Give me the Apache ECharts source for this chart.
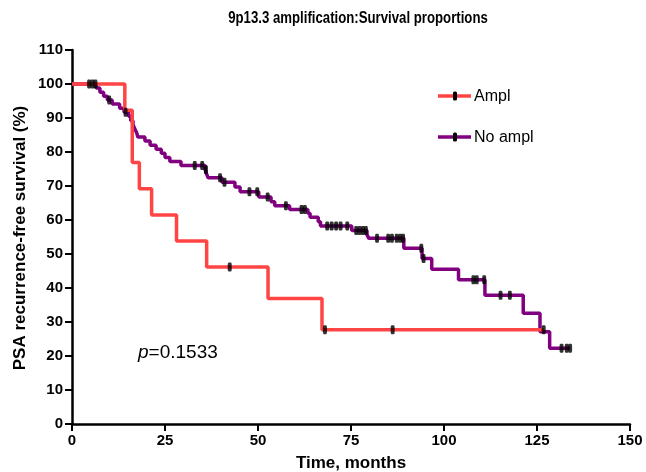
<!DOCTYPE html>
<html>
<head>
<meta charset="utf-8">
<script src="https://cdn.jsdelivr.net/npm/echarts@6/dist/echarts.min.js"></script>
<style>
  html, body { margin: 0; padding: 0; background: #fff; }
  #chart { width: 646px; height: 472px; }
</style>
</head>
<body>
<div id="chart"></div>
<script>
// Kaplan-Meier estimates: event times (months) and survival (%) after each drop
const amplTimes = [0, 14.2, 16.2, 18.1, 21.4, 28.1, 36.2, 52.7, 67.2, 126.8];
const amplSurv  = [100, 92.3, 76.9, 69.2, 61.5, 53.8, 46.2, 36.9, 27.7, 27.7];
const amplCensored = [42.4, 68.0, 86.2, 126.8];

const noAmplTimes = [0, 6.5, 7.5, 8.5, 9.5, 10.8, 12.8, 14.0, 15.2, 15.8, 16.4, 16.9, 17.4, 17.7,
  19.6, 21.0, 22.6, 24.0, 25.0, 26.3, 29.3, 35.8, 36.2, 36.6, 40.3, 43.8, 45.2, 50.2, 53.5, 54.5,
  58.5, 63.4, 64.0, 66.2, 66.8, 75.2, 79.3, 79.8, 89.2, 94.1, 96.7, 103.9, 111.0, 121.3, 125.8,
  128.4, 133.9];
const noAmplSurv = [100, 98.8, 97.6, 96.4, 95.3, 94.1, 92.9, 91.7, 90.5, 89.2, 88.0, 86.8, 85.6, 84.4,
  83.2, 82.0, 80.8, 79.6, 78.4, 77.2, 76.0, 74.8, 73.5, 72.4, 71.1, 69.7, 68.3, 66.8, 65.4, 64.2,
  63.1, 62.0, 60.8, 59.5, 58.2, 56.9, 55.7, 54.6, 51.7, 48.7, 45.5, 42.4, 37.9, 32.6, 27.1,
  22.3, 22.3];
const noAmplCensored = [4.6, 5.5, 6.3, 10.0, 14.4, 33.0, 35.0, 36.0, 39.8, 41.0, 47.7, 49.8, 52.6,
  57.5, 61.7, 62.6, 68.6, 69.8, 71.0, 72.2, 74.0, 76.4, 77.3, 78.2, 79.0, 82.0, 85.0, 86.0, 87.3,
  88.2, 89.0, 93.9, 94.5, 107.9, 108.8, 110.8, 115.2, 117.7, 131.6, 133.0, 133.9];

const xTicks = [0, 25, 50, 75, 100, 125, 150];
const yTicks = [0, 10, 20, 30, 40, 50, 60, 70, 80, 90, 100, 110];

const seriesNames = ['Ampl', 'No ampl'];
const pValue = '0.1533';

const RED = '#ff4444';
const PURPLE = '#800080';
const FONT = 'Liberation Sans, Arial, sans-serif';

// survival value of a step curve at time t
function survAt(times, surv, t) {
  let v = surv[0];
  for (let i = 0; i < times.length; i++) { if (times[i] <= t) v = surv[i]; }
  return v;
}
const pairs = (xs, ys) => xs.map((x, i) => [x, ys[i]]);
const censorPts = (ct, times, surv) => ct.map(t => [t, survAt(times, surv, t)]);

const chart = echarts.init(document.getElementById('chart'), null, { renderer: 'canvas' });

const axisCommon = {
  type: 'value',
  axisLine: { show: true, onZero: false, lineStyle: { color: '#000', width: 2.5 } },
  axisTick: { show: true, inside: false, length: 7, lineStyle: { color: '#000', width: 2 } },
  splitLine: { show: false },
  axisLabel: { color: '#000', fontFamily: FONT, fontWeight: 'bold', fontSize: 15 }
};

const censorStyle = {
  type: 'scatter', symbol: 'roundRect', symbolSize: [4, 9], z: 5,
  itemStyle: { color: '#000' }
};

chart.setOption({
  animation: false,
  backgroundColor: '#fff',
  grid: { left: 72, right: 16, top: 50, bottom: 48, containLabel: false },
  xAxis: Object.assign({}, axisCommon, {
    min: xTicks[0], max: xTicks[xTicks.length - 1], interval: 25,
    axisLabel: Object.assign({}, axisCommon.axisLabel, { margin: 9 })
  }),
  yAxis: Object.assign({}, axisCommon, {
    min: yTicks[0], max: yTicks[yTicks.length - 1], interval: 10,
    axisLabel: Object.assign({}, axisCommon.axisLabel, { margin: 9 })
  }),
  series: [
    {
      name: seriesNames[0], type: 'line', step: 'end', showSymbol: false, z: 3,
      lineStyle: { color: RED, width: 3.5 },
      data: pairs(amplTimes, amplSurv)
    },
    {
      name: seriesNames[1], type: 'line', step: 'end', showSymbol: false, z: 2,
      lineStyle: { color: PURPLE, width: 3.5 },
      data: pairs(noAmplTimes, noAmplSurv)
    },
    Object.assign({ data: censorPts(amplCensored, amplTimes, amplSurv) }, censorStyle),
    Object.assign({ data: censorPts(noAmplCensored, noAmplTimes, noAmplSurv) }, censorStyle)
  ],
  graphic: [
    {
      type: 'text', x: 358, y: 18, scaleX: 0.8,
      style: { text: '9p13.3 amplification:Survival proportions', fill: '#000',
        font: 'bold 16.5px ' + FONT, textAlign: 'center', textVerticalAlign: 'middle' }
    },
    {
      type: 'text', x: 351, y: 463,
      style: { text: 'Time, months', fill: '#000',
        font: 'bold 17px ' + FONT, textAlign: 'center', textVerticalAlign: 'middle' }
    },
    {
      type: 'text', x: 20, y: 238, rotation: Math.PI / 2,
      style: { text: 'PSA recurrence-free survival (%)', fill: '#000',
        font: 'bold 17px ' + FONT, textAlign: 'center', textVerticalAlign: 'middle' }
    },
    {
      type: 'text', x: 138, y: 353,
      style: { rich: { i: { fontStyle: 'italic', fontSize: 19, fontFamily: FONT },
                       n: { fontSize: 19, fontFamily: FONT } },
        text: '{i|p}{n|=' + pValue + '}', fill: '#000', textVerticalAlign: 'middle' }
    },
    // legend
    { type: 'line', shape: { x1: 438, y1: 96, x2: 471, y2: 96 }, style: { stroke: RED, lineWidth: 3.5 } },
    { type: 'rect', shape: { x: 453, y: 91.5, width: 4, height: 9, r: 1.5 }, style: { fill: '#000' } },
    { type: 'text', x: 474, y: 97, style: { text: seriesNames[0], fill: '#000',
        font: '16px ' + FONT, textVerticalAlign: 'middle' } },
    { type: 'line', shape: { x1: 438, y1: 137, x2: 471, y2: 137 }, style: { stroke: PURPLE, lineWidth: 3.5 } },
    { type: 'rect', shape: { x: 453, y: 132.5, width: 4, height: 9, r: 1.5 }, style: { fill: '#000' } },
    { type: 'text', x: 474, y: 138, style: { text: seriesNames[1], fill: '#000',
        font: '16px ' + FONT, textVerticalAlign: 'middle' } }
  ]
});
</script>
</body>
</html>
